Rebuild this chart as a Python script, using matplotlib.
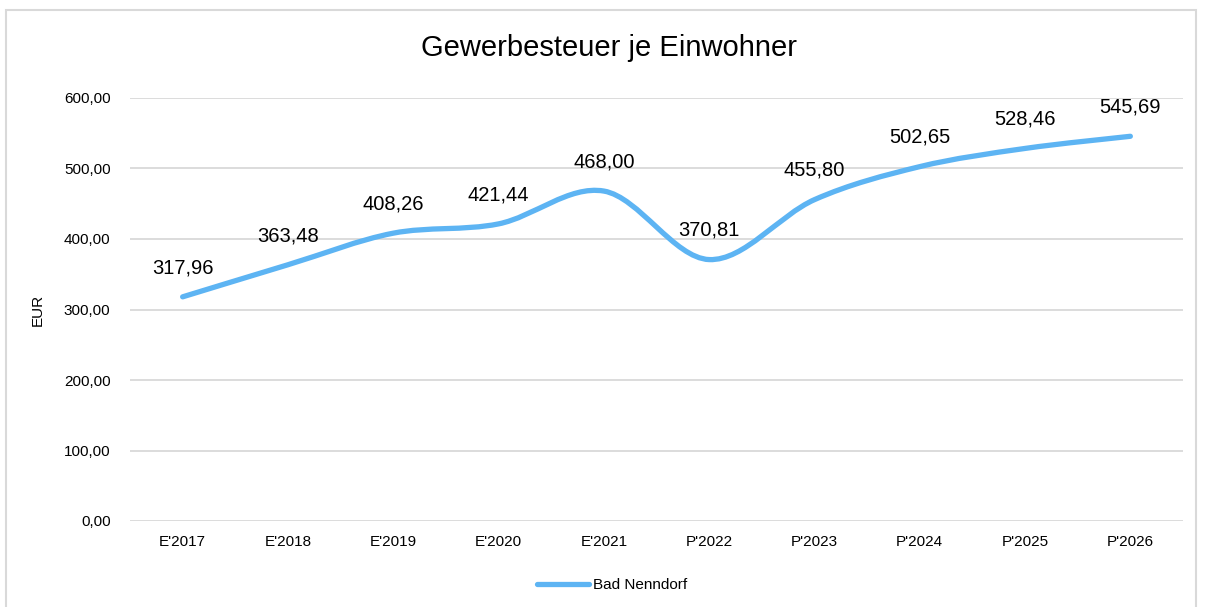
import matplotlib.pyplot as plt
from matplotlib.path import Path
from matplotlib.patches import PathPatch, Rectangle
from matplotlib.lines import Line2D

plt.rcParams['font.family'] = ['Liberation Sans', 'DejaVu Sans']

jahre = ["E'2017", "E'2018", "E'2019", "E'2020", "E'2021",
         "P'2022", "P'2023", "P'2024", "P'2025", "P'2026"]
werte = [317.96, 363.48, 408.26, 421.44, 468.00,
         370.81, 455.80, 502.65, 528.46, 545.69]
yticks = [0, 100, 200, 300, 400, 500, 600]

farbe = '#5DB4F3'
grau = '#D9D9D9'


def fmt(v):
    return f"{v:,.2f}".replace(',', 'X').replace('.', ',').replace('X', '.')


def glatt(x, y):
    # geglaettete Linie wie in Excel (Bezier durch die Punkte)
    n = len(x)
    verts = [(x[0], y[0])]
    codes = [Path.MOVETO]
    for i in range(n - 1):
        i0 = max(i - 1, 0)
        i3 = min(i + 2, n - 1)
        c1 = (x[i] + (x[i + 1] - x[i0]) / 6, y[i] + (y[i + 1] - y[i0]) / 6)
        c2 = (x[i + 1] - (x[i3] - x[i]) / 6, y[i + 1] - (y[i3] - y[i]) / 6)
        verts += [c1, c2, (x[i + 1], y[i + 1])]
        codes += [Path.CURVE4] * 3
    return Path(verts, codes)


fig = plt.figure(figsize=(12.06, 6.07), dpi=100)
fig.patches.append(Rectangle((6 / 1206, -0.05), 1190 / 1206, 1.05 - 10 / 607,
                             transform=fig.transFigure, fill=False,
                             edgecolor=grau, linewidth=1.5))

ax = fig.add_axes([130 / 1206, 1 - 521 / 607, 1053 / 1206, 423 / 607])
xs = list(range(len(jahre)))
ax.add_patch(PathPatch(glatt(xs, werte), fill=False, edgecolor=farbe,
                       linewidth=3.8, capstyle='round', joinstyle='round', zorder=3))

for x, v in zip(xs, werte):
    ax.annotate(fmt(v), (x, v), xytext=(0, 21), textcoords='offset points',
                ha='center', va='center', fontsize=14.5, color='#000000',
                annotation_clip=False)

ax.set_xlim(-0.5, len(jahre) - 0.5)
ax.set_ylim(0, 600)
ax.set_xticks(xs)
ax.set_xticklabels(jahre, fontsize=11)
ax.set_yticks(yticks)
ax.set_yticklabels([fmt(t) for t in yticks], fontsize=11)
ax.tick_params(length=0, pad=10)
ax.tick_params(axis='y', pad=14)
ax.grid(axis='y', color=grau, linewidth=1.3)
ax.set_axisbelow(True)
for s in ax.spines.values():
    s.set_visible(False)
ax.set_ylabel('EUR', fontsize=11, labelpad=14)

fig.text(609 / 1206, 1 - 48 / 607, 'Gewerbesteuer je Einwohner',
         ha='center', va='center', fontsize=21)

leg = [Line2D([0], [0], color=farbe, linewidth=3.8, solid_capstyle='round')]
fig.legend(leg, ['Bad Nenndorf'], loc='center', bbox_to_anchor=(612 / 1206, 1 - 585 / 607),
           frameon=False, fontsize=11, handlelength=3.4, handletextpad=0.3)

fig.savefig('out.png', dpi=100)
